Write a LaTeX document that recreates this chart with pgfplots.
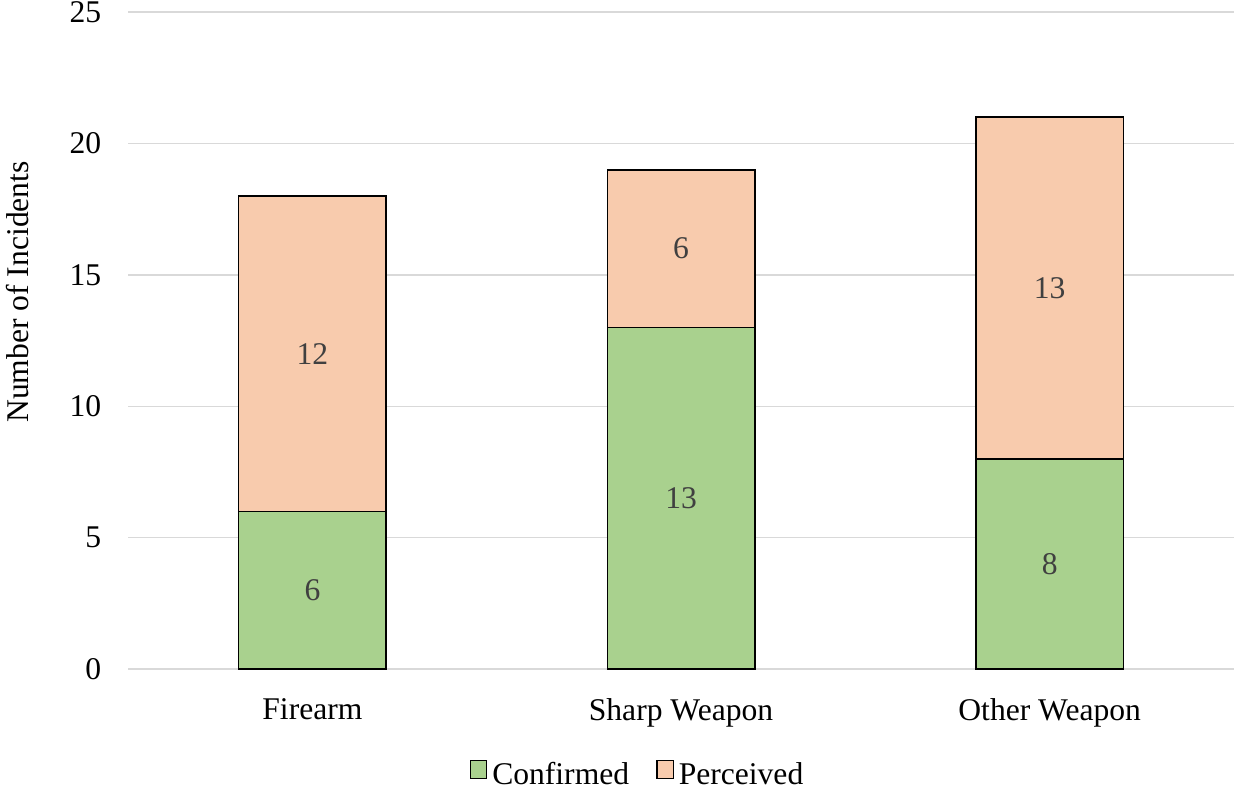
\documentclass[border=0pt]{standalone}
\usepackage{fontspec}
\setmainfont{Liberation Serif}
\usepackage{pgfplots}
\pgfplotsset{compat=1.18}
\definecolor{cgreen}{HTML}{A9D18E}
\definecolor{cpeach}{HTML}{F8CBAD}
\definecolor{cgrid}{HTML}{D9D9D9}
\definecolor{clab}{HTML}{404040}
\newcommand{\chartfont}{\fontsize{12.8}{15}\selectfont}
\begin{document}
\begin{tikzpicture}
\begin{axis}[
  scale only axis,
  width=448.1pt, height=266.2pt,
  ybar stacked,
  bar width=0.4,
  xmin=-0.5, xmax=2.5,
  ymin=0, ymax=25,
  xtick={0,1,2},
  xticklabels={Firearm, Sharp Weapon, Other Weapon},
  ytick={0,5,10,15,20,25},
  /pgf/number format/assume math mode=true,
  axis x line*=bottom,
  axis y line*=left,
  x axis line style={draw=cgrid, line width=0.5pt, -},
  y axis line style={draw=none, -},
  ymajorgrids,
  major grid style={draw=cgrid, line width=0.5pt},
  major tick length=0pt,
  tick style={draw=none},
  tick label style={font=\chartfont, text=black},
  yticklabel style={xshift=-7.4pt},
  xticklabel style={yshift=-8.5pt},
  ylabel={Number of Incidents},
  ylabel style={font=\chartfont, at={(rel axis cs:-0.1004,0.574)}, anchor=center},
  legend style={draw=none, font=\chartfont, legend columns=2,
    at={(0.462,-0.1615)}, anchor=center,
    /tikz/every even column/.append style={column sep=9pt}},
  legend image code/.code={\draw[#1, draw=black, line width=0.5pt] (0pt,-1.2pt) rectangle (6.6pt,5.8pt);},
]
\addplot[fill=cgreen, draw=black, line width=0.6pt] coordinates {(0,6) (1,13) (2,8)};
\addlegendentry{Confirmed}
\addplot[fill=cpeach, draw=black, line width=0.6pt] coordinates {(0,12) (1,6) (2,13)};
\addlegendentry{Perceived}
\end{axis}
\begin{axis}[
  scale only axis,
  width=448.1pt, height=266.2pt,
  xmin=-0.5, xmax=2.5,
  ymin=0, ymax=25,
  hide axis,
]
\addplot[only marks, mark=*, mark size=0pt, mark options={draw=none, fill=none},
  nodes near coords, point meta=explicit symbolic,
  every node near coord/.append style={anchor=center, font=\chartfont, text=clab}]
  table[meta=lab] {
x y lab
0 3 6
1 6.5 13
2 4 8
0 12 12
1 16 6
2 14.5 13
};
\end{axis}
\pgfresetboundingbox
\path[use as bounding box] (-51.9pt,-49.8pt) rectangle (448.1pt,271.1pt);
\end{tikzpicture}
\end{document}
